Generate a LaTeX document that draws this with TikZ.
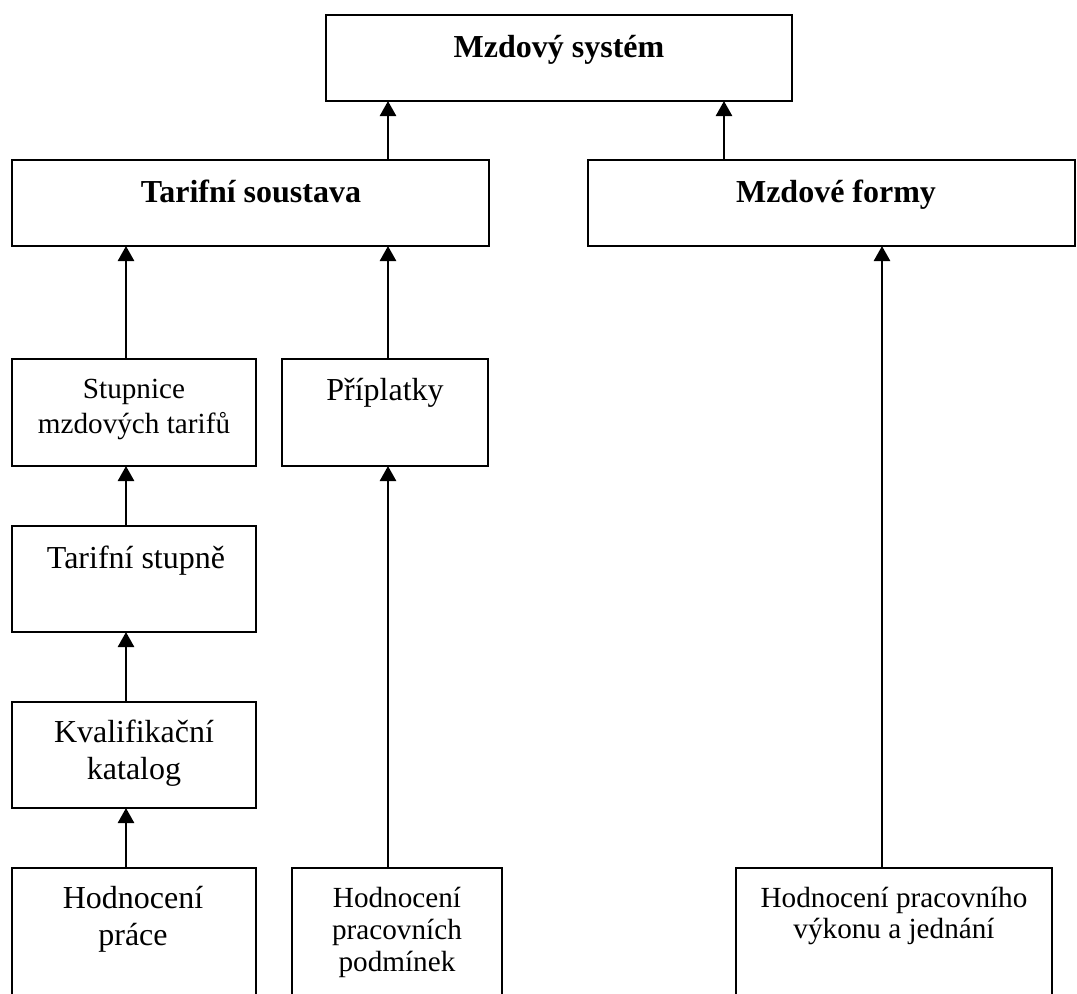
\documentclass[tikz,border=0pt]{standalone}
\usepackage{fontspec}
\setmainfont{Liberation Serif}
\usetikzlibrary{arrows.meta}
\begin{document}
\begin{tikzpicture}[x=0.5pt,y=-0.5pt,
  box/.style={draw, line width=1.35pt, inner sep=0pt, outer sep=0pt, rectangle},
  lbl/.style={anchor=base, inner sep=0pt, align=center},
  bigb/.style={font=\fontsize{16}{18.5}\selectfont\bfseries},
  big/.style={font=\fontsize{16}{18.5}\selectfont},
  arr/.style={line width=1.3pt, -{Triangle[length=7.5pt,width=8pt]}}]
\useasboundingbox (0,0) rectangle (1077,993);
\clip (0,0) rectangle (1077,993);

% boxes
\node[box, minimum width=233pt,   minimum height=43pt]   (sys)    at (559,58)    {};
\node[box, minimum width=238.5pt, minimum height=43pt]   (tar)    at (250.5,203) {};
\node[box, minimum width=243.5pt, minimum height=43pt]   (form)   at (831.5,203) {};
\node[box, minimum width=122pt,   minimum height=53.5pt] (stup)   at (134,412.5) {};
\node[box, minimum width=103pt,   minimum height=53.5pt] (prip)   at (385,412.5) {};
\node[box, minimum width=122pt,   minimum height=53pt]   (tstup)  at (134,579)   {};
\node[box, minimum width=122pt,   minimum height=53pt]   (kval)   at (134,755)   {};
\node[box, minimum width=122pt,   minimum height=71pt]   (hprace) at (134,939)   {};
\node[box, minimum width=105pt,   minimum height=71pt]   (hpod)   at (397,939)   {};
\node[box, minimum width=158pt,   minimum height=71pt]   (hvyk)   at (894,939)   {};

% texts (anchor base = baseline of the last line)
\node[lbl, bigb] (sys-t)    at (559,57)   {Mzdový systém};
\node[lbl, bigb] (tar-t)    at (251,202)  {Tarifní soustava};
\node[lbl, bigb] (form-t)   at (836,202)  {Mzdové formy};
\node[lbl, font=\fontsize{14.6}{17.5}\selectfont] (stup-t) at (134,433) {Stupnice\\mzdových tarifů};
\node[lbl, big]  (prip-t)   at (385,400)  {Příplatky};
\node[lbl, big]  (tstup-t)  at (136,568)  {Tarifní stupně};
\node[lbl, font=\fontsize{16}{18.5}\selectfont] (kval-t) at (134,779) {Kvalifikační\\katalog};
\node[lbl, font=\fontsize{16}{18.5}\selectfont] (hprace-t) at (133,945) {Hodnocení\\práce};
\node[lbl, font=\fontsize{14.6}{16}\selectfont] (hpod-t) at (397,971) {Hodnocení\\pracovních\\podmínek};
\node[lbl, font=\fontsize{14.6}{15.5}\selectfont] (hvyk-t) at (894,938) {Hodnocení pracovního\\výkonu a jednání};

% connector columns
\coordinate (xa) at (388,0);
\coordinate (xb) at (724,0);
\coordinate (xc) at (126,0);
\coordinate (xd) at (882,0);

\draw[arr] (tar.north -| xa)    -- (sys.south -| xa);
\draw[arr] (form.north -| xb)   -- (sys.south -| xb);
\draw[arr] (stup.north -| xc)   -- (tar.south -| xc);
\draw[arr] (prip.north -| xa)   -- (tar.south -| xa);
\draw[arr] (tstup.north -| xc)  -- (stup.south -| xc);
\draw[arr] (kval.north -| xc)   -- (tstup.south -| xc);
\draw[arr] (hprace.north -| xc) -- (kval.south -| xc);
\draw[arr] (hpod.north -| xa)   -- (prip.south -| xa);
\draw[arr] (hvyk.north -| xd)   -- (form.south -| xd);
\end{tikzpicture}
\end{document}
